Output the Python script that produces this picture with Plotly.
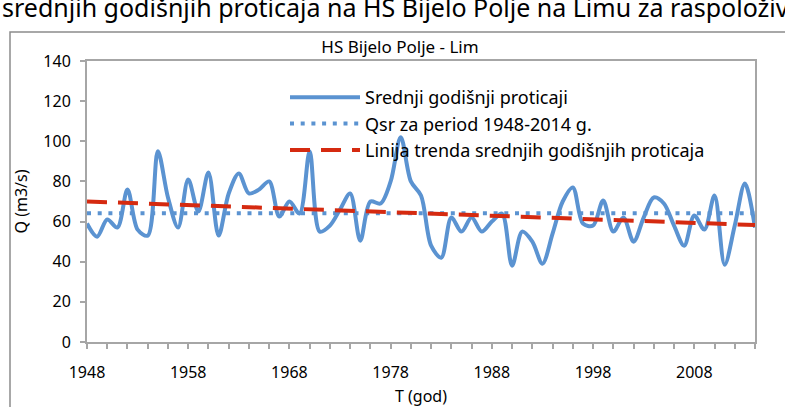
import numpy as np
import plotly.graph_objects as go

# Annual mean discharge, HS Bijelo Polje on the Lim river (m3/s)
years = list(range(1948, 2015))
q_mean = [
    59, 52.5, 61, 57, 76, 56, 53, 95, 72, 57,        # 1948-1957
    81, 65, 84.5, 53, 74, 84, 74, 76, 80, 62.5,      # 1958-1967
    70, 64, 95, 55, 58, 66, 74, 50.5, 70, 69,        # 1968-1977
    80, 102, 80, 73, 48, 42, 62, 55, 62, 55,         # 1978-1987
    60, 64, 38, 55, 50, 39, 54, 70, 77, 59,          # 1988-1997
    58, 70.5, 55, 62, 50, 62, 72, 69, 58, 48,        # 1998-2007
    63, 56, 73, 38.5, 58, 79, 57,                    # 2008-2014
]
y_ticks = [0, 20, 40, 60, 80, 100, 120, 140]
x_ticks = [1948, 1958, 1968, 1978, 1988, 1998, 2008]

x = np.array(years, dtype=float)
q = np.array(q_mean, dtype=float)
q_sr = float(q.mean())
slope, intercept = np.polyfit(x, q, 1)
trend = slope * x + intercept

BLUE = "#5B93D1"
RED = "#D52A10"
GRID = "#A6A6A6"
FONT = "Noto Sans"

fig = go.Figure()
fig.add_trace(go.Scatter(
    x=years, y=q_mean, mode="lines", name="Srednji godišnji proticaji",
    line=dict(color=BLUE, width=4, shape="spline", smoothing=0.9),
))
fig.add_trace(go.Scatter(
    x=years, y=[q_sr] * len(years), mode="lines",
    name="Qsr za period 1948-2014 g.",
    line=dict(color=BLUE, width=4, dash="4px,6.7px"),
))
fig.add_trace(go.Scatter(
    x=years, y=trend, mode="lines",
    name="Linija trenda srednjih godišnjih proticaja",
    line=dict(color=RED, width=4, dash="20px,11px"),
))

# outer chart frame
fig.add_shape(type="rect", xref="paper", yref="paper",
              x0=(10 - 87) / 668, x1=(800 - 87) / 668,
              y0=(342 - 420) / 281, y1=(342 - 32) / 281,
              line=dict(color="#8C8C8C", width=1.5), layer="below")

# running document text above the chart
fig.add_annotation(
    text="srednjih godišnjih proticaja na HS Bijelo Polje na Limu za raspoloživi period",
    xref="paper", yref="paper", x=(0 - 87) / 668, y=(342 - 26) / 281,
    xanchor="left", yanchor="bottom", showarrow=False,
    font=dict(family=FONT, size=25, color="black"),
)

fig.update_layout(
    width=785, height=407,
    margin=dict(l=87, r=30, t=61, b=65),
    paper_bgcolor="white", plot_bgcolor="white",
    font=dict(family=FONT, size=16, color="black"),
    title=dict(text="HS Bijelo Polje - Lim", x=400 / 785, xanchor="center",
               y=1 - 47 / 407, yanchor="middle",
               font=dict(family=FONT, size=17, color="black")),
    showlegend=True,
    legend=dict(x=(285 - 87) / 668, y=(342 - 79) / 281, xanchor="left", yanchor="top",
                bgcolor="rgba(0,0,0,0)", font=dict(family=FONT, size=18),
                itemwidth=70, tracegroupgap=0),
    xaxis=dict(range=[1948, 2014], tickmode="array", tickvals=x_ticks,
               ticktext=[str(v) for v in x_ticks], automargin=False,
               ticks="outside", ticklen=5, tickcolor=GRID, tickwidth=1.5,
               minor=dict(tickmode="linear", tick0=1948, dtick=2, ticks="outside",
                          ticklen=5, tickcolor=GRID, tickwidth=1.5),
               showline=True, linecolor=GRID, linewidth=2, mirror=True,
               showgrid=False, zeroline=False, ticklabelstandoff=10,
               tickfont=dict(family=FONT, size=16),
               title=dict(text="T (god)", font=dict(family=FONT, size=16), standoff=12)),
    yaxis=dict(range=[0, 140], tickmode="array", tickvals=y_ticks, automargin=False,
               ticks="outside", ticklen=5, tickcolor=GRID, tickwidth=1.5,
               showline=True, linecolor=GRID, linewidth=2, mirror=True,
               showgrid=False, zeroline=False, ticklabelstandoff=6,
               tickfont=dict(family=FONT, size=16),
               title=dict(text="Q (m3/s)", font=dict(family=FONT, size=16), standoff=12)),
)

fig.write_html("out.html")
